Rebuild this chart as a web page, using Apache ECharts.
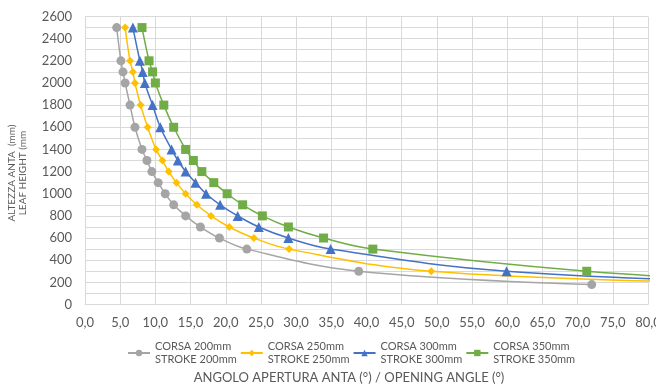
<!DOCTYPE html>
<html>
<head>
<meta charset="utf-8">
<script src="https://cdn.jsdelivr.net/npm/echarts@6/dist/echarts.min.js"></script>
<style>html,body{margin:0;padding:0;background:#fff;}#c{width:656px;height:384px;}</style>
</head>
<body>
<div id="c"></div>
<script>
// Heights (mm)
const heights200 = [2500,2200,2100,2000,1800,1600,1400,1300,1200,1100,1000,900,800,700,600,500,300,180];
const angles200  = [4.5,5.1,5.4,5.7,6.4,7.1,8.1,8.8,9.5,10.4,11.4,12.6,14.3,16.4,19.1,23.0,38.9,72.0];
const heights250 = [2500,2200,2100,2000,1800,1600,1400,1300,1200,1100,1000,900,800,700,600,500,300,200];
const angles250  = [5.7,6.4,6.8,7.1,7.9,8.9,10.1,11.0,11.9,13.0,14.3,15.9,17.9,20.5,24.0,29.0,49.2,90.0];
const heights300 = [2500,2200,2100,2000,1800,1600,1400,1300,1200,1100,1000,900,800,700,600,500,300,200];
const angles300  = [6.8,7.8,8.2,8.5,9.6,10.7,12.3,13.2,14.3,15.7,17.2,19.2,21.7,24.7,28.9,34.9,59.9,98.0];
const heights350 = [2500,2200,2100,2000,1800,1600,1400,1300,1200,1100,1000,900,800,700,600,500,300,200];
const angles350  = [8.1,9.1,9.6,10.0,11.2,12.6,14.3,15.4,16.6,18.3,20.2,22.4,25.2,28.9,33.9,40.9,71.3,100.0];
const seriesNames = ['CORSA 200mm\nSTROKE 200mm','CORSA 250mm\nSTROKE 250mm','CORSA 300mm\nSTROKE 300mm','CORSA 350mm\nSTROKE 350mm'];
const colors = ['#A5A5A5','#FFC000','#4472C4','#70AD47'];
const symbols = ['circle','diamond','triangle','rect'];
const symbolSizes = [9,8,10,9];
const xTitle = 'ANGOLO APERTURA ANTA (°) / OPENING ANGLE (°)';
const yTitle = 'ALTEZZA ANTA  (mm)\nLEAF HEIGHT (mm';

const FONT = 'Lato, "Open Sans", sans-serif';
const pairs = [[angles200,heights200],[angles250,heights250],[angles300,heights300],[angles350,heights350]];
const chart = echarts.init(document.getElementById('c'), null, {renderer:'canvas'});
chart.setOption({
  animation:false,
  backgroundColor:'#fff',
  grid:{left:85,top:16.5,right:8,bottom:79.5,containLabel:false,outerBoundsMode:'none'},
  xAxis:{type:'value',min:0,max:80,interval:5,
    axisLine:{show:true,lineStyle:{color:'#D9D9D9'}},
    axisTick:{show:false},
    splitLine:{show:true,lineStyle:{color:'#D9D9D9',width:1}},
    axisLabel:{color:'#595959',fontSize:13,fontFamily:FONT,margin:12,
      formatter:v=>v.toFixed(1).replace('.',',')}
  },
  yAxis:{type:'value',min:0,max:2600,interval:200,
    axisLine:{show:true,lineStyle:{color:'#D9D9D9'}},
    axisTick:{show:false},
    splitLine:{show:true,lineStyle:{color:'#D9D9D9',width:1}},
    minorTick:{show:false,splitNumber:2},
    minorSplitLine:{show:true,lineStyle:{color:'#D9D9D9',width:1}},
    axisLabel:{color:'#595959',fontSize:13,fontFamily:FONT,margin:13,formatter:v=>String(v)}
  },
  legend:{left:122,top:335,itemWidth:22,itemHeight:8,itemGap:3,
    textStyle:{color:'#595959',fontSize:11,fontFamily:FONT,lineHeight:13},
    data:seriesNames},
  graphic:[
    {type:'text',x:17.5,y:173,rotation:Math.PI/2,
      style:{text:yTitle,fill:'#595959',font:'10px '+FONT,textAlign:'center',textVerticalAlign:'middle',lineHeight:11}},
    {type:'text',x:349,y:378,
      style:{text:xTitle,fill:'#595959',font:'13px '+FONT,textAlign:'center',textVerticalAlign:'middle'}}
  ],
  series:pairs.map((p,i)=>({
    name:seriesNames[i],type:'line',smooth:0.4,clip:true,
    symbol:symbols[i],symbolSize:symbolSizes[i],
    itemStyle:{color:colors[i]},lineStyle:{color:colors[i],width:1.5},
    data:p[0].map((x,j)=>[x,p[1][j]])
  }))
});
</script>
</body>
</html>
